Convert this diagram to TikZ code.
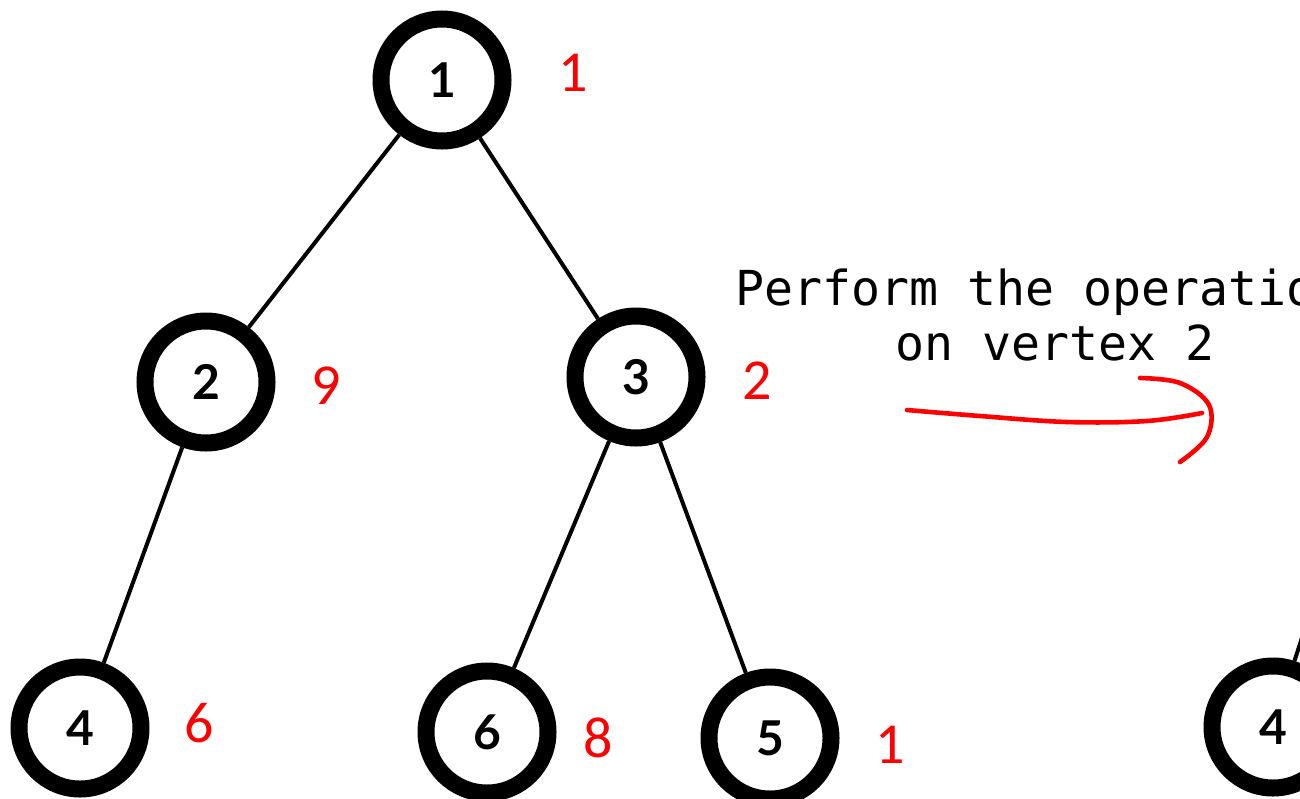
\documentclass[tikz,border=0pt]{standalone}
\usepackage{fontspec}
\newfontfamily\monofont{DejaVu Sans Mono}
\newfontfamily\redfont{Carlito}
\newfontfamily\vfont{Lato}
\begin{document}
\begin{tikzpicture}[x=0.5pt,y=-0.5pt,
  vert/.style={circle, draw=black, line width=8.5pt, minimum size=61pt, inner sep=0pt,
    font=\vfont\bfseries\fontsize{24}{24}\selectfont},
  edge/.style={line width=2pt},
  lbl/.style={text=red, inner sep=0pt, font=\redfont\fontsize{29}{29}\selectfont},
  mono/.style={inner sep=0pt, font=\monofont\fontsize{24.1}{24.1}\selectfont},
  redpen/.style={draw=red, line width=2.3pt, line cap=round, line join=round}]
\clip (0,0) rectangle (1300,798);
\node[vert] (n1) at (442,80) {1};
\node[vert] (n2) at (206,382) {2};
\node[vert] (n3) at (636,377) {3};
\node[vert] (n4) at (80,728) {4};
\node[vert] (n6) at (487,732) {6};
\node[vert] (n5) at (770,738) {5};
\node[vert] (m4) at (1273,727) {4};
\coordinate (mp) at (1373,419);
\draw[edge] (n1) -- (n2);
\draw[edge] (n1) -- (n3);
\draw[edge] (n2) -- (n4);
\draw[edge] (n3) -- (n6);
\draw[edge] (n3) -- (n5);
\draw[edge] (m4) -- (mp);
\node[lbl] (l1) at (573,73) {1};
\node[lbl] (l2) at (326,386) {9};
\node[lbl] (l3) at (757,381) {2};
\node[lbl] (l4) at (199,723) {6};
\node[lbl] (l6) at (598,738) {8};
\node[lbl] (l5) at (890,745) {1};
\node[mono, anchor=base west] (t1) at (735,305) {Perform the operation};
\node[mono, anchor=base west] (t2) at (895,360) {on vertex 2};
\draw[redpen] plot[smooth, tension=0.6] coordinates {(907,410) (980,416) (1067,422) (1147,421) (1202,413)};
\draw[redpen] plot[smooth, tension=0.6] coordinates {(1140,378) (1180,383) (1209,405) (1207,437) (1180,462)};
\end{tikzpicture}
\end{document}
